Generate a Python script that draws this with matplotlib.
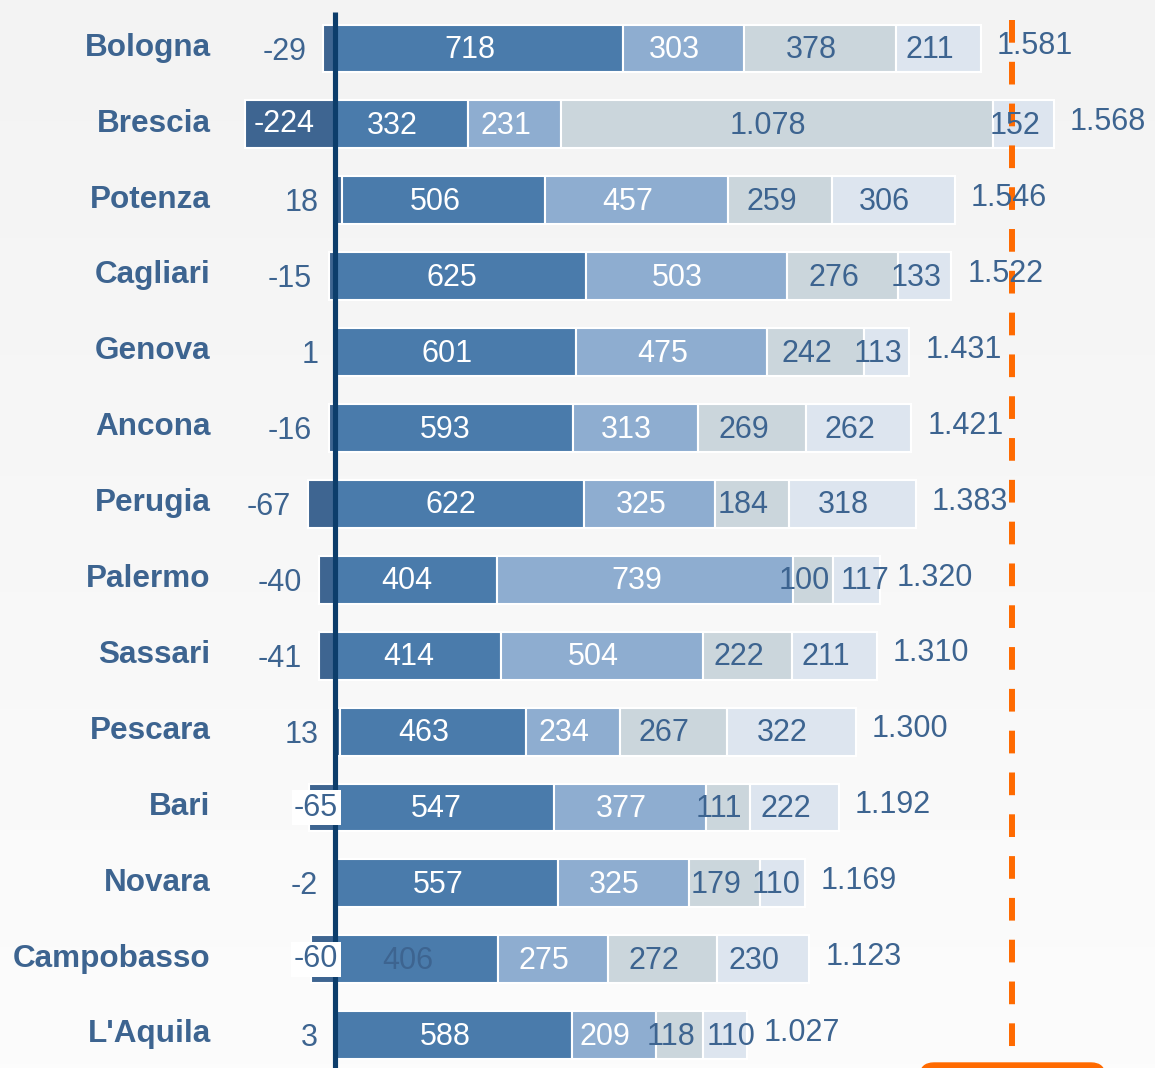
import matplotlib
matplotlib.use("Agg")
import matplotlib.pyplot as plt
import numpy as np
from matplotlib.patches import FancyBboxPatch
from matplotlib.transforms import IdentityTransform
from matplotlib.colors import LinearSegmentedColormap

plt.rcParams['font.family'] = ['Liberation Sans', 'DejaVu Sans']

cities = ["Bologna", "Brescia", "Potenza", "Cagliari", "Genova", "Ancona", "Perugia",
          "Palermo", "Sassari", "Pescara", "Bari", "Novara", "Campobasso", "L'Aquila"]
first = [-29, -224, 18, -15, 1, -16, -67, -40, -41, 13, -65, -2, -60, 3]
seg1 = [718, 332, 506, 625, 601, 593, 622, 404, 414, 463, 547, 557, 406, 588]
seg2 = [303, 231, 457, 503, 475, 313, 325, 739, 504, 234, 377, 325, 275, 209]
seg3 = [378, 1078, 259, 276, 242, 269, 184, 100, 222, 267, 111, 179, 272, 118]
seg4 = [211, 152, 306, 133, 113, 262, 318, 117, 211, 322, 222, 110, 230, 110]
totals = [1581, 1568, 1546, 1522, 1431, 1421, 1383, 1320, 1310, 1300, 1192, 1169, 1123, 1027]
reference_value = 1688

C_NEG = "#3e6591"
C1 = "#4a7bab"
C2 = "#8eadd0"
C3 = "#cbd6dc"
C4 = "#dde5ef"
TXT = "#3d6490"
ZERO = "#0c3d6b"
ORANGE = "#ff6a00"

VAL_FS = 22
CAT_FS = 22.7

def fmt(v):
    s = f"{abs(v):,}".replace(",", ".")
    return ("-" if v < 0 else "") + s

W, H = 1155, 1068
fig = plt.figure(figsize=(W / 100, H / 100), dpi=100)

# background gradient
bg = fig.add_axes([0, 0, 1, 1])
bg.axis("off")
grad = np.linspace(0, 1, 256).reshape(-1, 1)
cm = LinearSegmentedColormap.from_list("bg", ["#f3f3f3", "#fcfcfc"])
bg.imshow(grad, aspect="auto", cmap=cm, extent=[0, 1, 0, 1], origin="upper")

ax = fig.add_axes([0, 0, 1, 1], facecolor="none")
ax.axis("off")
scale = 0.401
x0 = 335
ax.set_xlim(-x0 / scale, (W - x0) / scale)
row0, step = 48.5, 75.9
ax.set_ylim((H - row0) / step, -row0 / step)

n = len(cities)
h = 0.63
ec = "white"
lw = 1.5
min_gap = 60 / scale  # minimal distance between neighbouring label centres

for i in range(n):
    f = first[i]
    ax.barh(i, f, left=0, height=h, color=C_NEG, edgecolor=ec, linewidth=lw, zorder=2)
    lefts = max(f, 0)
    prev_center = None
    for val, col, tc in [(seg1[i], C1, "white"), (seg2[i], C2, "white"),
                         (seg3[i], C3, TXT), (seg4[i], C4, TXT)]:
        ax.barh(i, val, left=lefts, height=h, color=col, edgecolor=ec, linewidth=lw, zorder=2)
        color = tc
        if cities[i] == "Campobasso" and col == C1:
            color = TXT
        cx = lefts + val / 2 - 22
        if prev_center is not None and cx - prev_center < min_gap:
            cx = prev_center + min_gap
        ax.text(cx, i + 0.02, fmt(val), ha="center", va="center",
                fontsize=VAL_FS, color=color, zorder=5)
        prev_center = cx
        lefts += val
    # total
    ax.text(lefts + 40, i - 0.03, fmt(totals[i]), ha="left", va="center",
            fontsize=VAL_FS, color=TXT, zorder=5)
    # first-component label
    if cities[i] == "Brescia":
        ax.text(f / 2 - 15, i + 0.0, fmt(f), ha="center", va="center",
                fontsize=VAL_FS, color="white", zorder=5)
    elif cities[i] in ("Bari", "Campobasso"):
        ax.text(8, i + 0.0, fmt(f), ha="right", va="center", fontsize=VAL_FS, color=TXT,
                zorder=6, bbox=dict(boxstyle="square,pad=0.08", fc="white", ec="none"))
    else:
        ax.text(min(f, 0) - 42, i + 0.04, fmt(f), ha="right", va="center",
                fontsize=VAL_FS, color=TXT, zorder=5)
    # category
    ax.text(-310, i - 0.01, cities[i], ha="right", va="center", fontsize=CAT_FS,
            fontweight="bold", color=TXT, zorder=5)

# zero line
ax.vlines(0, -0.48, n + 1, color=ZERO, linewidth=3.7, zorder=4)
# reference dashed line
ax.vlines(reference_value, -0.37, n + 1, color=ORANGE, linewidth=4.3,
          linestyles=(0, (3.8, 3.2)), zorder=3)

# orange label box (cut off at bottom)
box = FancyBboxPatch((920, -40), 185, 45, boxstyle="round,pad=0,rounding_size=14",
                     transform=IdentityTransform(), facecolor=ORANGE, edgecolor=ORANGE,
                     zorder=7)
fig.patches.append(box)

fig.savefig("out.png", dpi=100)
